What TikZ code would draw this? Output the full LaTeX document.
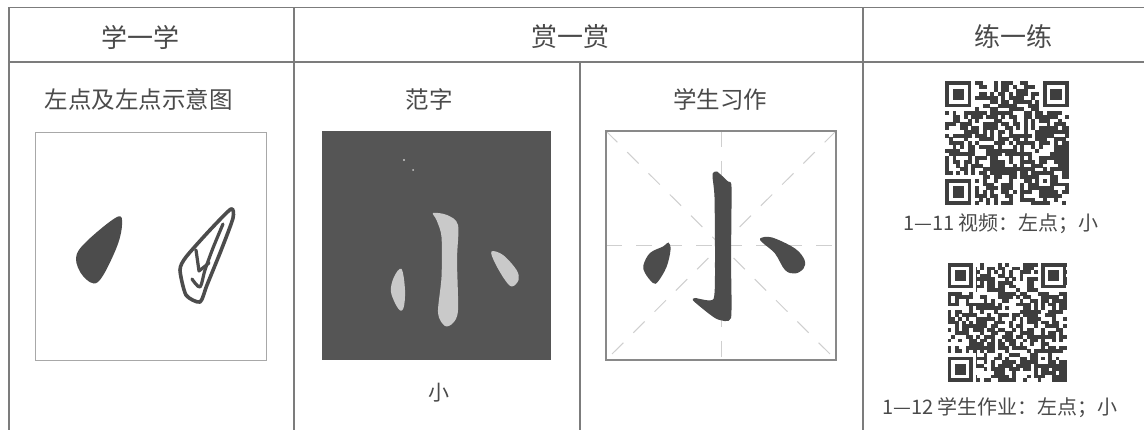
\documentclass[tikz,border=0pt]{standalone}
\usepackage{fontspec}
\setmainfont{Noto Sans CJK SC}
\definecolor{linec}{HTML}{7C7C7C}
\definecolor{boxc}{HTML}{A8A8A8}
\definecolor{txt}{HTML}{4A4A4A}
\definecolor{ink}{HTML}{4C4C4C}
\definecolor{darkbg}{HTML}{555555}
\definecolor{chalk}{HTML}{C9C9C9}
\definecolor{qrc}{HTML}{3E3E3E}
\definecolor{gridc}{HTML}{CFCFCF}
\tikzset{
  tline/.style={draw=linec, line width=1.6pt},
  framebox/.style={draw=boxc, line width=1pt},
  hdr/.style={inner sep=0pt, text=txt, font=\fontsize{26}{30}\selectfont},
  subhdr/.style={inner sep=0pt, text=txt, font=\fontsize{23.5}{28}\selectfont},
  capt/.style={inner sep=0pt, text=txt, font=\fontsize{20}{24}\selectfont},
  inkfill/.style={fill=ink},
  chalkfill/.style={fill=chalk},
  gridline/.style={draw=gridc, line width=1pt, dash pattern=on 16pt off 14pt},
}
\newcommand\drawqr[4]{%
  \pgfmathsetseed{#4}%
  \foreach \i in {0,...,32}{%
    \foreach \j in {0,...,32}{%
      \pgfmathtruncatemacro\qb{rnd+0.56}%
      \ifnum\qb=1
        \fill[qrc] ({#1+\i*#3},{#2+\j*#3}) rectangle +({#3+0.2},{#3+0.2});
      \fi
    }%
  }%
  \foreach \fx/\fy/\cx/\cy in {0/0/0/0, 26/0/25/0, 0/26/0/25}{%
    \fill[white] ({#1+\cx*#3},{#2+\cy*#3}) rectangle +({8*#3},{8*#3});
    \fill[qrc] ({#1+\fx*#3},{#2+\fy*#3}) rectangle +({7*#3},{7*#3});
    \fill[white] ({#1+(\fx+1)*#3},{#2+(\fy+1)*#3}) rectangle +({5*#3},{5*#3});
    \fill[qrc] ({#1+(\fx+2)*#3},{#2+(\fy+2)*#3}) rectangle +({3*#3},{3*#3});
  }%
  \fill[qrc] ({#1+24*#3},{#2+24*#3}) rectangle +({5*#3},{5*#3});
  \fill[white] ({#1+25*#3},{#2+25*#3}) rectangle +({3*#3},{3*#3});
  \fill[qrc] ({#1+26*#3},{#2+26*#3}) rectangle +({#3},{#3});
}
\begin{document}
\begin{tikzpicture}[x=1pt,y=-1pt]
\useasboundingbox[fill=white] (0,0) rectangle (1144,430);

% ---- table grid
\coordinate (tl) at (9,7.5);
\coordinate (tr) at (1144,7.5);
\coordinate (hl) at (9,62);
\coordinate (hr) at (1144,62);
\coordinate (bl) at (9,430);
\coordinate (d1t) at (294,7.5);
\coordinate (d1b) at (294,430);
\coordinate (d2t) at (580,62);
\coordinate (d2b) at (580,430);
\coordinate (d3t) at (863,7.5);
\coordinate (d3b) at (863,430);
\draw[tline] (tl) -- (tr);
\draw[tline] (hl) -- (hr);
\draw[tline] (tl) -- (bl);
\draw[tline] (d1t) -- (d1b);
\draw[tline] (d2t) -- (d2b);
\draw[tline] (d3t) -- (d3b);

% ---- header texts
\node[hdr] (h1) at (140,37) {学一学};
\node[hdr] (h2) at (570,37) {赏一赏};
\node[hdr] (h3) at (1013,37) {练一练};

% ---- sub headers
\node[subhdr] (s1) at (139,99) {左点及左点示意图};
\node[subhdr] (s2) at (429,99) {范字};
\node[subhdr] (s3) at (720,99) {学生习作};

% ---- left illustration box
\draw[framebox] (35,133) rectangle (266,361);
\fill[inkfill] plot[smooth cycle, tension=0.6] coordinates {(117,217) (122,225) (116,249) (98,282) (83,276) (76,258) (86,242)};
\draw[ink, line width=3.6pt, line join=round] plot[smooth cycle, tension=0.4] coordinates {(231,209) (233,218) (222,248) (207,285) (200,302) (186,295) (180,270) (186,257) (210,230)};
\draw[ink, line width=3.2pt, line cap=round, line join=round] plot[smooth, tension=0.5] coordinates {(223,224) (213,248) (205,270) (200,287) (192,279)};
\draw[ink, line width=3.2pt, line cap=round, line join=round] (196,250) -- (199,271) -- (209,263);

% ---- 范字 dark box
\fill[darkbg] (322,131) rectangle (551,360);
\fill[chalkfill] plot[smooth cycle, tension=0.5] coordinates {(433,213) (447,215) (458,225) (457,260) (458,310) (453,323) (445,326) (438,313) (441.5,277) (441.5,237) (436.5,220)};
\fill[chalkfill] plot[smooth cycle, tension=0.6] coordinates {(401.5,269) (405,290) (403.5,308) (398.5,309) (391,292) (394,277)};
\fill[chalkfill] plot[smooth cycle, tension=0.6] coordinates {(491.5,251.5) (503,255) (516.5,270) (518.5,280) (512,286.5) (505,280) (495,263)};
\fill[chalk] (404,160) circle (1.2);
\fill[chalk] (413,170) circle (1);
\node[subhdr, font=\fontsize{21}{24}\selectfont] (s4) at (439,393) {小};

% ---- 学生习作 box with grid
\coordinate (g1) at (606,131);
\coordinate (g2) at (836,131);
\coordinate (g3) at (836,360);
\coordinate (g4) at (606,360);
\coordinate (gl) at (606,245.5);
\coordinate (gr) at (836,245.5);
\coordinate (gt) at (721,131);
\coordinate (gb) at (721,360);
\draw[gridline] (g1) -- (g3);
\draw[gridline] (g2) -- (g4);
\draw[gridline] (gl) -- (gr);
\draw[gridline] (gt) -- (gb);
\draw[draw=linec!90, line width=1.6pt] (g1) rectangle (g3);
\fill[inkfill] plot[smooth cycle, tension=0.35] coordinates {(713,173) (717,171.5) (728,181.5) (731.5,187) (731,260) (731,318) (718,319.5) (708,313) (693,300.5) (695,298) (713.5,299) (715,260) (714.5,197) (712.5,177)};
\fill[inkfill] plot[smooth cycle, tension=0.6] coordinates {(668.5,242.5) (670.5,250) (666.5,267) (658,281.5) (653,283) (645,273) (643.5,265) (650,253) (663,246.5)};
\fill[inkfill] plot[smooth cycle, tension=0.6] coordinates {(760,238.5) (772,237.5) (795,248.5) (804.5,260) (803.5,268.5) (795,273.5) (785,270) (775,253.5) (763.5,243.5)};

% ---- QR codes
\drawqr{945}{81}{3.76}{17}
\node[capt] (c1) at (1001,224) {1—11 视频：左点；小};
\drawqr{947.5}{263}{3.6}{42}
\node[capt] (c2) at (1000,408) {1—12 学生作业：左点；小};
\end{tikzpicture}
\end{document}
